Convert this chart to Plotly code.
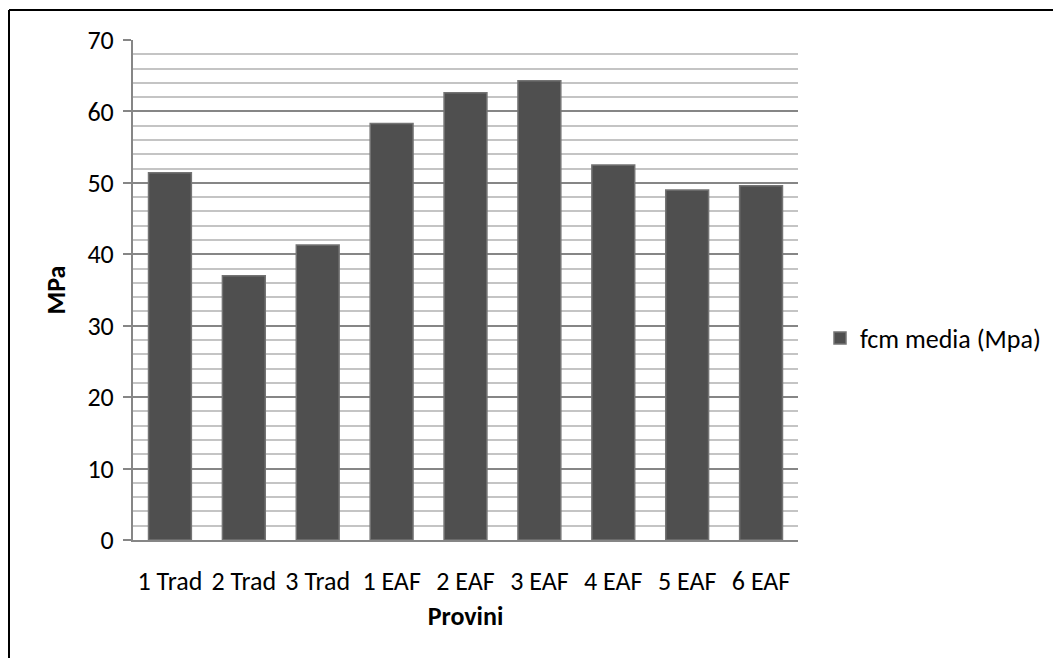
import plotly.graph_objects as go

categories = ["1 Trad", "2 Trad", "3 Trad", "1 EAF", "2 EAF", "3 EAF", "4 EAF", "5 EAF", "6 EAF"]
values = [51.4, 37.0, 41.3, 58.3, 62.6, 64.3, 52.5, 49.0, 49.6]
series_name = "fcm media (Mpa)"
y_ticks = [0, 10, 20, 30, 40, 50, 60, 70]

FONT = "Carlito, Lato, 'Liberation Sans', sans-serif"
FS = 26

# plot area in page pixels (figure sits 8px inside the page)
PL, PR, PT, PB = 133, 798, 40, 540
PW, PH = PR - PL, PB - PT

fig = go.Figure()
fig.add_trace(go.Bar(
    x=categories, y=values, name=series_name,
    marker=dict(color="#4f4f4f", line=dict(color="#747474", width=1.5)),
    showlegend=True,
))

fig.update_layout(
    width=1061, height=658,
    margin=dict(l=PL - 8, r=1069 - PR, t=PT - 8, b=666 - PB),
    paper_bgcolor="white", plot_bgcolor="white",
    font=dict(family=FONT, size=FS, color="black"),
    showlegend=True,
    legend=dict(x=(820 - PL) / PW, y=(PB - 338) / PH, xanchor="left", yanchor="middle",
                font=dict(size=FS), itemwidth=30, bgcolor="rgba(0,0,0,0)"),
    bargap=0.42,
)

fig.update_yaxes(
    range=[0, 70], tickvals=y_ticks, ticks="outside", ticklen=8,
    tickcolor="#868686", tickwidth=1.5,
    showline=True, linecolor="#868686", linewidth=2,
    showgrid=True, gridcolor="#868686", gridwidth=1.5,
    minor=dict(dtick=2, showgrid=True, gridcolor="#c4c4c4", gridwidth=1.5),
    zeroline=False,
    title=dict(text="<b>MPa</b>", font=dict(size=FS), standoff=14),
    tickfont=dict(size=FS), ticklabelstandoff=4,
)
fig.update_xaxes(
    showline=True, linecolor="#868686", linewidth=2,
    showgrid=False, ticks="",
    tickfont=dict(size=FS), ticklabelstandoff=17,
    title=dict(text="<b>Provini</b>", font=dict(size=FS), standoff=11),
)

# Outer chart border (left and top edges visible)
bx = (9 - PL) / PW
by = (PB - 10) / PH
fig.add_shape(type="line", xref="paper", yref="paper",
              x0=bx, x1=(1075 - PL) / PW, y0=by, y1=by,
              line=dict(color="black", width=2))
fig.add_shape(type="line", xref="paper", yref="paper",
              x0=bx, x1=bx, y0=by, y1=(PB - 680) / PH,
              line=dict(color="black", width=2))

fig.write_html("out.html")
